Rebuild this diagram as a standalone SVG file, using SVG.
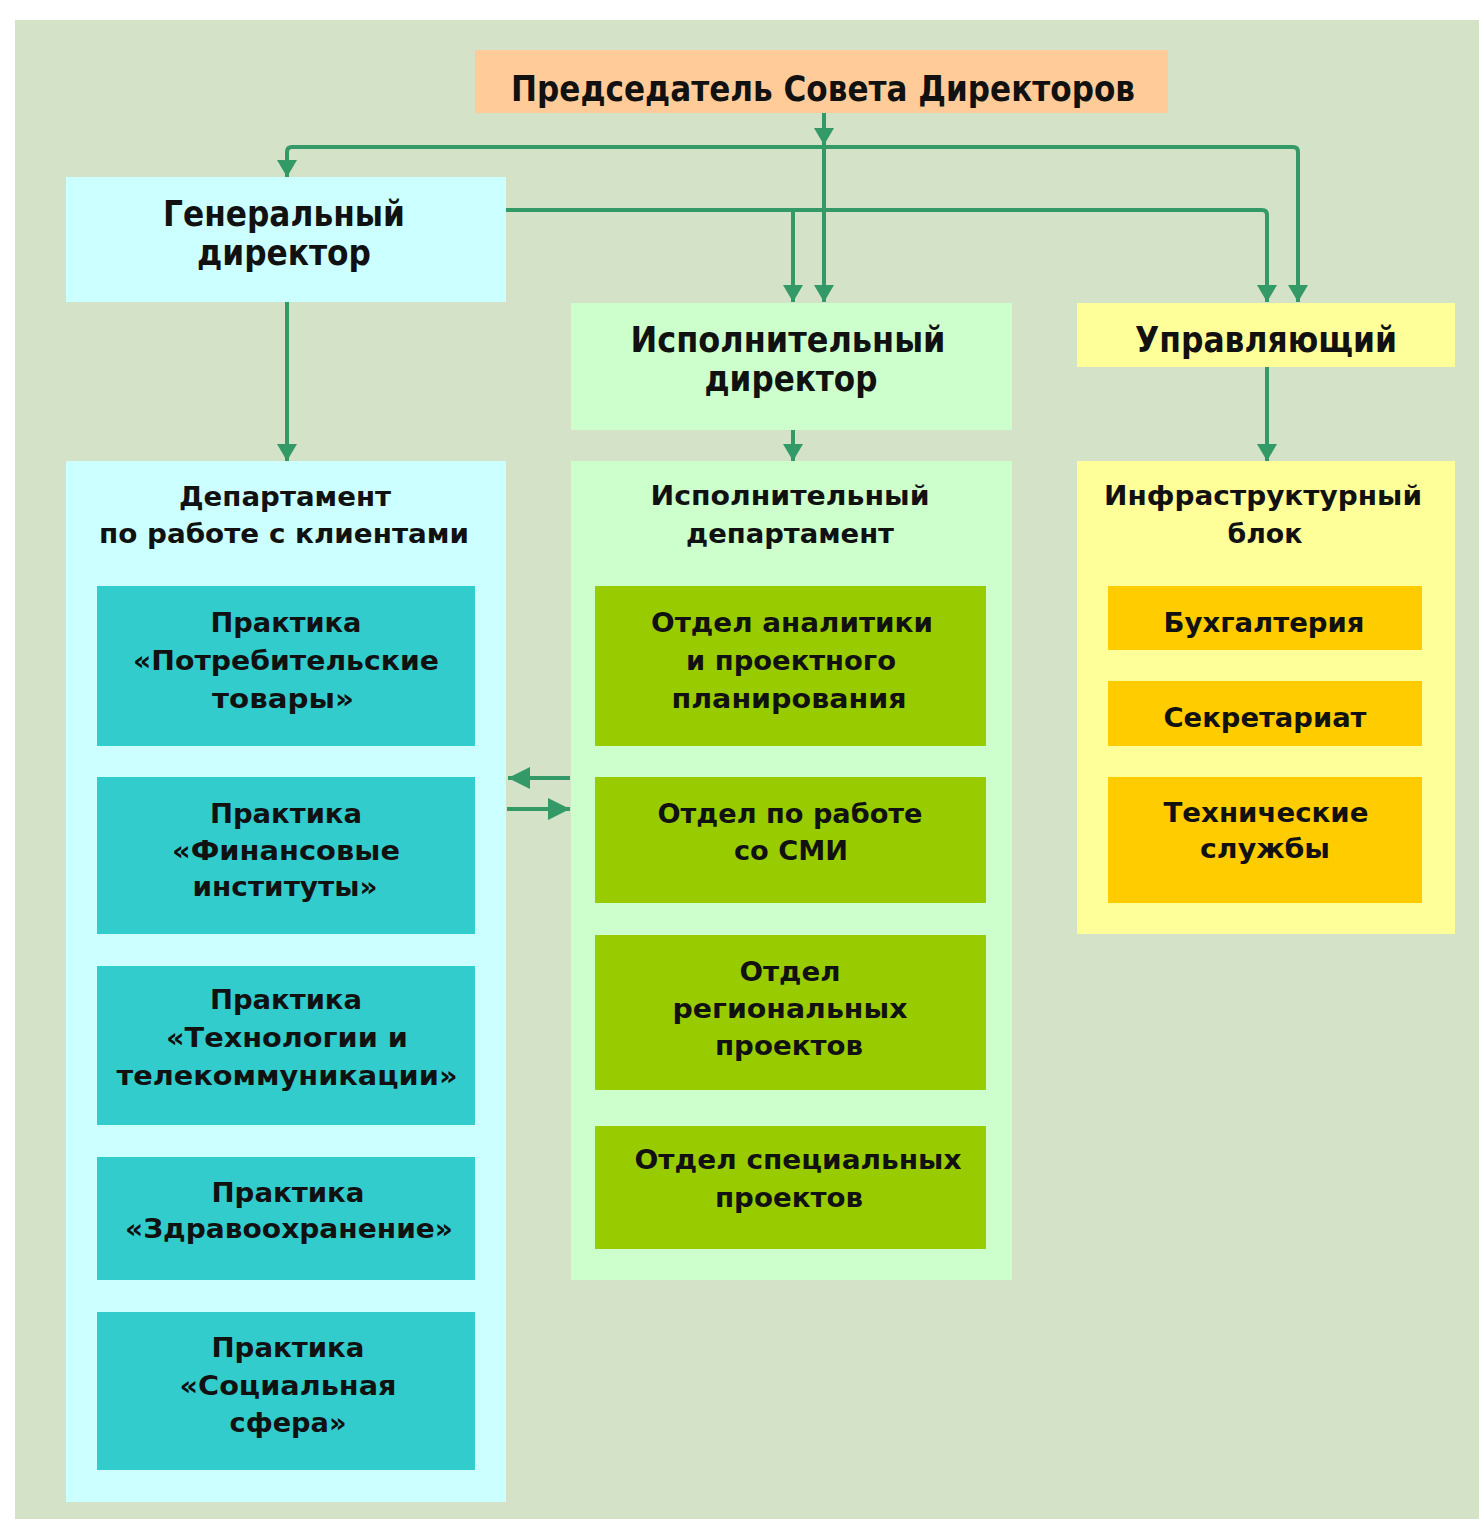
<svg xmlns="http://www.w3.org/2000/svg" width="1479" height="1519" viewBox="0 0 1479 1519">
<style>
text{font-family:"DejaVu Sans","Liberation Sans",sans-serif;font-weight:bold;fill:#111;text-anchor:middle}
.big{font-size:35px}
.sm{font-size:26px}
.con{fill:none;stroke:#339966;stroke-width:4}
.cyan{fill:#ccffff}.lg{fill:#ccffcc}.yel{fill:#ffff99}.teal{fill:#33cccc}.grn{fill:#99cc00}.org{fill:#ffcc00}
</style>
<defs>
<marker id="ah" viewBox="0 0 17 20" refX="17" refY="10" markerWidth="17" markerHeight="20" markerUnits="userSpaceOnUse" orient="auto">
<path d="M0,0 L17,10 L0,20 Z" fill="#339966"/>
</marker>
<marker id="ahL" viewBox="0 0 22 22" refX="22" refY="11" markerWidth="22" markerHeight="22" markerUnits="userSpaceOnUse" orient="auto">
<path d="M0,0 L22,11 L0,22 Z" fill="#339966"/>
</marker>
</defs>
<rect x="0" y="0" width="1479" height="1519" fill="#ffffff"/>
<rect x="15" y="20" width="1464" height="1499" fill="#d4e3c8"/>

<g id="chairman">
<rect x="475" y="50" width="693" height="63" fill="#ffcc99"/>
<text class="big" x="823" y="101" textLength="624" lengthAdjust="spacingAndGlyphs">Председатель Совета Директоров</text>
</g>
<g id="general-director">
<rect class="cyan" x="66" y="177" width="440" height="125"/>
<text class="big" x="284" y="226" textLength="242" lengthAdjust="spacingAndGlyphs">Генеральный</text>
<text class="big" x="284" y="265" textLength="174" lengthAdjust="spacingAndGlyphs">директор</text>
</g>
<g id="executive-director">
<rect class="lg" x="571" y="303" width="441" height="127"/>
<text class="big" x="788" y="352" textLength="315" lengthAdjust="spacingAndGlyphs">Исполнительный</text>
<text class="big" x="791" y="391" textLength="173" lengthAdjust="spacingAndGlyphs">директор</text>
</g>
<g id="manager">
<rect class="yel" x="1077" y="303" width="378" height="64"/>
<text class="big" x="1266" y="352" textLength="262" lengthAdjust="spacingAndGlyphs">Управляющий</text>
</g>

<g id="client-department">
<rect class="cyan" x="66" y="461" width="440" height="1041"/>
<text class="sm" x="285" y="506" textLength="212" lengthAdjust="spacingAndGlyphs">Департамент</text>
<text class="sm" x="284" y="543" textLength="370" lengthAdjust="spacingAndGlyphs">по работе с клиентами</text>
</g>
<g id="executive-department">
<rect class="lg" x="571" y="461" width="441" height="819"/>
<text class="sm" x="790" y="505" textLength="279" lengthAdjust="spacingAndGlyphs">Исполнительный</text>
<text class="sm" x="790" y="543" textLength="208" lengthAdjust="spacingAndGlyphs">департамент</text>
</g>
<g id="infrastructure-block">
<rect class="yel" x="1077" y="461" width="378" height="473"/>
<text class="sm" x="1263" y="505" textLength="318" lengthAdjust="spacingAndGlyphs">Инфраструктурный</text>
<text class="sm" x="1265" y="543" textLength="75" lengthAdjust="spacingAndGlyphs">блок</text>
</g>

<g id="practice-consumer">
<rect class="teal" x="97" y="586" width="378" height="160"/>
<text class="sm" x="286" y="632" textLength="151" lengthAdjust="spacingAndGlyphs">Практика</text>
<text class="sm" x="286" y="670" textLength="306" lengthAdjust="spacingAndGlyphs">«Потребительские</text>
<text class="sm" x="283" y="708" textLength="142" lengthAdjust="spacingAndGlyphs">товары»</text>
</g>
<g id="practice-finance">
<rect class="teal" x="97" y="777" width="378" height="157"/>
<text class="sm" x="286" y="823" textLength="152" lengthAdjust="spacingAndGlyphs">Практика</text>
<text class="sm" x="286" y="860" textLength="228" lengthAdjust="spacingAndGlyphs">«Финансовые</text>
<text class="sm" x="285" y="896" textLength="185" lengthAdjust="spacingAndGlyphs">институты»</text>
</g>
<g id="practice-tech">
<rect class="teal" x="97" y="966" width="378" height="159"/>
<text class="sm" x="286" y="1009" textLength="152" lengthAdjust="spacingAndGlyphs">Практика</text>
<text class="sm" x="287" y="1047" textLength="242" lengthAdjust="spacingAndGlyphs">«Технологии и</text>
<text class="sm" x="287" y="1085" textLength="341" lengthAdjust="spacingAndGlyphs">телекоммуникации»</text>
</g>
<g id="practice-health">
<rect class="teal" x="97" y="1157" width="378" height="123"/>
<text class="sm" x="288" y="1202" textLength="153" lengthAdjust="spacingAndGlyphs">Практика</text>
<text class="sm" x="289" y="1238" textLength="328" lengthAdjust="spacingAndGlyphs">«Здравоохранение»</text>
</g>
<g id="practice-social">
<rect class="teal" x="97" y="1312" width="378" height="158"/>
<text class="sm" x="288" y="1357" textLength="153" lengthAdjust="spacingAndGlyphs">Практика</text>
<text class="sm" x="288" y="1395" textLength="217" lengthAdjust="spacingAndGlyphs">«Социальная</text>
<text class="sm" x="288" y="1432" textLength="117" lengthAdjust="spacingAndGlyphs">сфера»</text>
</g>

<g id="analytics">
<rect class="grn" x="595" y="586" width="391" height="160"/>
<text class="sm" x="792" y="632" textLength="282" lengthAdjust="spacingAndGlyphs">Отдел аналитики</text>
<text class="sm" x="791" y="670" textLength="210" lengthAdjust="spacingAndGlyphs">и проектного</text>
<text class="sm" x="789" y="708" textLength="235" lengthAdjust="spacingAndGlyphs">планирования</text>
</g>
<g id="media">
<rect class="grn" x="595" y="777" width="391" height="126"/>
<text class="sm" x="790" y="823" textLength="265" lengthAdjust="spacingAndGlyphs">Отдел по работе</text>
<text class="sm" x="791" y="860" textLength="114" lengthAdjust="spacingAndGlyphs">со СМИ</text>
</g>
<g id="regional">
<rect class="grn" x="595" y="935" width="391" height="155"/>
<text class="sm" x="790" y="981" textLength="101" lengthAdjust="spacingAndGlyphs">Отдел</text>
<text class="sm" x="790" y="1018" textLength="235" lengthAdjust="spacingAndGlyphs">региональных</text>
<text class="sm" x="789" y="1055" textLength="148" lengthAdjust="spacingAndGlyphs">проектов</text>
</g>
<g id="special">
<rect class="grn" x="595" y="1126" width="391" height="123"/>
<text class="sm" x="798" y="1169" textLength="327" lengthAdjust="spacingAndGlyphs">Отдел специальных</text>
<text class="sm" x="789" y="1207" textLength="148" lengthAdjust="spacingAndGlyphs">проектов</text>
</g>

<g id="accounting">
<rect class="org" x="1108" y="586" width="314" height="64"/>
<text class="sm" x="1264" y="632" textLength="201" lengthAdjust="spacingAndGlyphs">Бухгалтерия</text>
</g>
<g id="secretariat">
<rect class="org" x="1108" y="681" width="314" height="65"/>
<text class="sm" x="1265" y="727" textLength="203" lengthAdjust="spacingAndGlyphs">Секретариат</text>
</g>
<g id="technical">
<rect class="org" x="1108" y="777" width="314" height="126"/>
<text class="sm" x="1266" y="822" textLength="205" lengthAdjust="spacingAndGlyphs">Технические</text>
<text class="sm" x="1265" y="858" textLength="130" lengthAdjust="spacingAndGlyphs">службы</text>
</g>

<g id="connectors">
<path class="con" d="M824,113 V145" marker-end="url(#ah)"/>
<path class="con" d="M824,147 V302" marker-end="url(#ah)"/>
<path class="con" d="M824,147 H292 Q287,147 287,152 V177" marker-end="url(#ah)"/>
<path class="con" d="M824,147 H1293 Q1298,147 1298,152 V302" marker-end="url(#ah)"/>
<path class="con" d="M506,210 H1262 Q1267,210 1267,215 V302" marker-end="url(#ah)"/>
<path class="con" d="M793,210 V302" marker-end="url(#ah)"/>
<path class="con" d="M287,302 V461" marker-end="url(#ah)"/>
<path class="con" d="M793,430 V461" marker-end="url(#ah)"/>
<path class="con" d="M1267,367 V461" marker-end="url(#ah)"/>
<path class="con" d="M570,778 H508" marker-end="url(#ahL)"/>
<path class="con" d="M507,809 H570" marker-end="url(#ahL)"/>
</g>
</svg>
